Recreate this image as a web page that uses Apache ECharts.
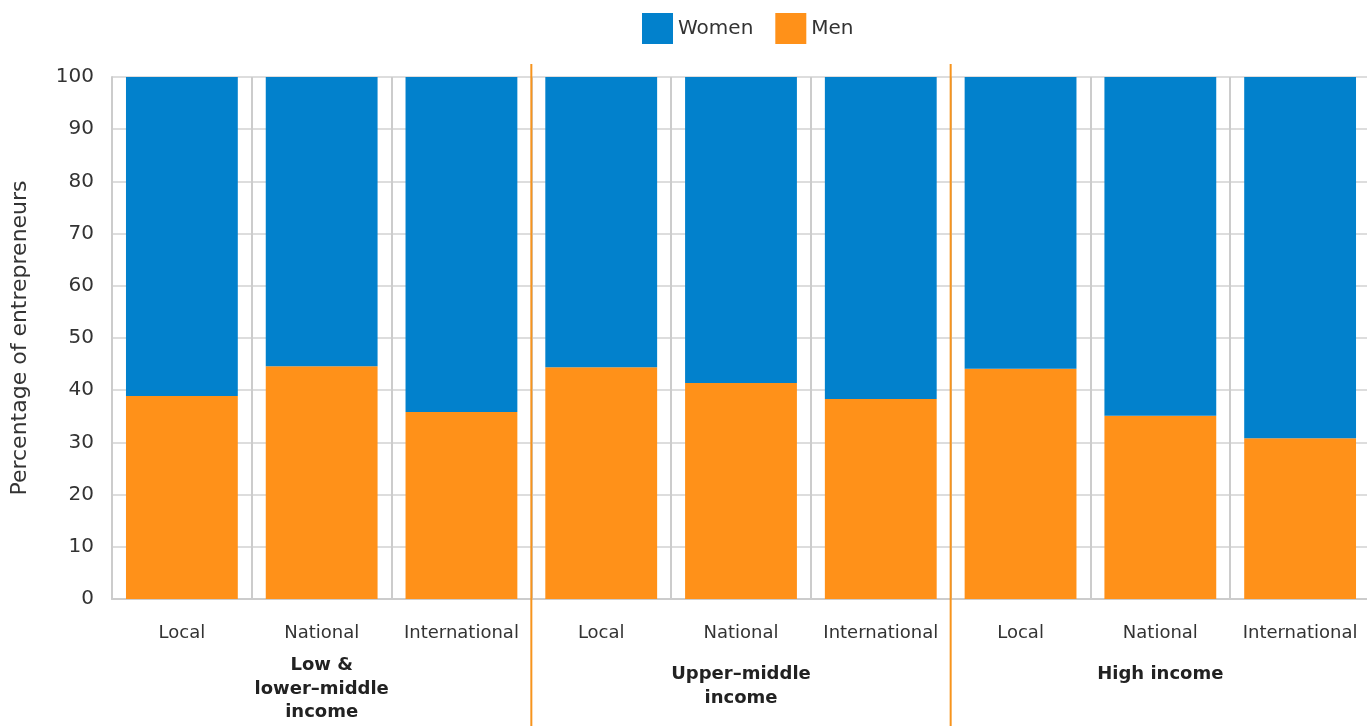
<!DOCTYPE html>
<html>
<head>
<meta charset="utf-8">
<script src="https://cdn.jsdelivr.net/npm/echarts@6/dist/echarts.min.js"></script>
<style>
html,body{margin:0;padding:0;background:#fff;}
#chart{width:1367px;height:726px;}
</style>
</head>
<body>
<div id="chart"></div>
<script>
const categories = ["Local","National","International","Local","National","International","Local","National","International"];
const groupsA = ["Low &\nlower\u2013middle\nincome", "", ""];
const groupsB = ["", "Upper\u2013middle\nincome", "High income"];
const men = [38.9, 44.6, 35.8, 44.4, 41.4, 38.3, 44.1, 35.1, 30.8];
const women = men.map(v => +(100 - v).toFixed(1));
const separators = [2, 5];
const yTicks = {min: 0, max: 100, interval: 10};

const FONT = "DejaVu Sans";
const groupAxis = (data, margin) => ({
  type: 'category', data: data, position: 'bottom', offset: 0,
  axisLine: {show: false}, axisTick: {show: false}, splitLine: {show: false},
  axisLabel: {interval: 0, fontSize: 18, fontWeight: 'bold', color: '#222', lineHeight: 23.5,
    verticalAlign: 'top', margin: margin, fontFamily: FONT}
});
const chart = echarts.init(document.getElementById('chart'));
chart.setOption({
  animation: false,
  textStyle: {fontFamily: FONT},
  legend: {
    top: 8, left: 637,
    itemWidth: 31, itemHeight: 31, itemGap: 22,
    icon: 'rect',
    textStyle: {fontSize: 20, color: '#333', fontFamily: FONT},
    data: ['Women', 'Men']
  },
  grid: {left: 112, width: 1258, top: 77, bottom: 127, containLabel: false, outerBoundsMode: 'none'},
  xAxis: [{
    type: 'category', data: categories,
    axisLine: {lineStyle: {color: '#ccc', width: 2}},
    axisTick: {show: false},
    splitLine: {show: true, interval: 0, lineStyle: {color: '#ccc', width: 2}},
    axisLabel: {interval: 0, fontSize: 18, color: '#333', margin: 25, fontFamily: FONT}
  }, groupAxis(groupsA, 55), groupAxis(groupsB, 64)],
  yAxis: {
    type: 'value', min: yTicks.min, max: yTicks.max, interval: yTicks.interval,
    name: 'Percentage of entrepreneurs', nameLocation: 'middle', nameGap: 81,
    nameTextStyle: {fontSize: 22, color: '#333', fontFamily: FONT},
    axisLine: {show: true, lineStyle: {color: '#ccc', width: 2}},
    axisTick: {show: false},
    axisLabel: {fontSize: 20, color: '#333', margin: 18, fontFamily: FONT},
    splitLine: {lineStyle: {color: '#ddd', width: 2}}
  },
  series: [{
    name: 'Men', type: 'bar', stack: 'total', data: men, barWidth: '80%',
    itemStyle: {color: '#FF9119'}
  }, {
    name: 'Women', type: 'bar', stack: 'total', data: women, barWidth: '80%',
    itemStyle: {color: '#0281CC'}
  }, {
    type: 'custom', clip: false, silent: true, z: 10,
    data: separators.map(i => [i]),
    renderItem: function (params, api) {
      const i = api.value(0);
      const a = api.coord([i, 100]);
      const b = api.coord([i + 1, 100]);
      const x = (a[0] + b[0]) / 2;
      return {
        type: 'line',
        shape: {x1: x, y1: a[1] - 13, x2: x, y2: api.getHeight()},
        style: {stroke: '#F7941D', lineWidth: 2}
      };
    }
  }]
});
</script>
</body>
</html>
